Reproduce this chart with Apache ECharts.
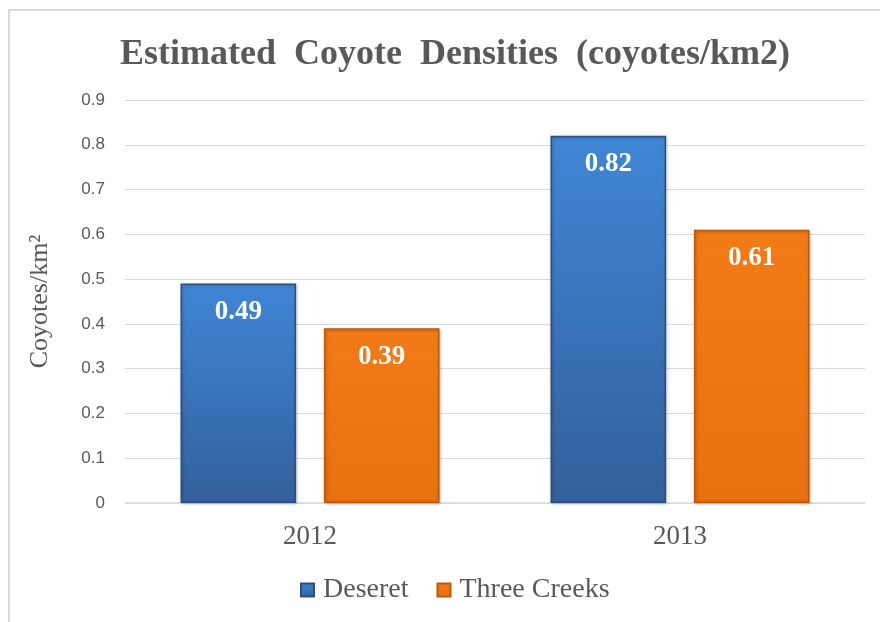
<!DOCTYPE html>
<html>
<head>
<meta charset="utf-8">
<script src="https://cdn.jsdelivr.net/npm/echarts@6/dist/echarts.min.js"></script>
<style>
  html, body { margin: 0; padding: 0; background: #fff; }
  #chart { width: 880px; height: 622px; }
</style>
</head>
<body>
<div id="chart"></div>
<script>
// Estimated coyote densities by site and year
const years = ['2012', '2013'];
const deseret = [0.49, 0.82];
const threeCreeks = [0.39, 0.61];
const yTicks = [0, 0.9, 0.1];   // min, max, interval

const serif = '"Liberation Serif", "Times New Roman", serif';
const sans = '"Liberation Sans", Arial, sans-serif';

function barStyle(top, bottom, edge) {
  return {
    color: new echarts.graphic.LinearGradient(0, 0, 0, 1, [
      { offset: 0, color: top },
      { offset: 1, color: bottom }
    ]),
    borderColor: edge,
    borderWidth: 1.5,
    shadowColor: 'rgba(0,0,0,0.25)',
    shadowBlur: 3,
    shadowOffsetX: 1,
    shadowOffsetY: 1
  };
}

const valueLabel = {
  show: true,
  position: 'insideTop',
  distance: 15,
  color: '#ffffff',
  fontFamily: serif,
  fontWeight: 'bold',
  fontSize: 27,
  formatter: p => p.value.toFixed(2)
};

const chart = echarts.init(document.getElementById('chart'), null, { renderer: 'canvas' });
chart.setOption({
  animation: false,
  backgroundColor: '#ffffff',
  graphic: [{
    type: 'rect',
    shape: { x: 9, y: 10, width: 900, height: 700 },
    style: { fill: 'none', stroke: '#d9d9d9', lineWidth: 2 },
    silent: true
  }],
  title: {
    text: 'Estimated  Coyote  Densities  (coyotes/km2)',
    left: 450,
    textAlign: 'center',
    top: 32,
    textStyle: {
      fontFamily: serif,
      fontWeight: 'bold',
      fontSize: 36,
      color: '#595959'
    }
  },
  grid: { left: 125, right: 15, top: 100, bottom: 119, containLabel: false },
  legend: {
    bottom: 13,
    left: 295,
    itemWidth: 13,
    itemHeight: 13,
    itemGap: 28,
    textStyle: { fontFamily: serif, fontSize: 28, color: '#595959', padding: [0, 0, 0, 4] },
    data: [
      { name: 'Deseret', icon: 'rect' },
      { name: 'Three Creeks', icon: 'rect' }
    ]
  },
  xAxis: {
    type: 'category',
    data: years,
    axisLine: { lineStyle: { color: '#d9d9d9', width: 1.5 } },
    axisTick: { show: false },
    axisLabel: { fontFamily: serif, fontSize: 27, color: '#595959', margin: 20 }
  },
  yAxis: {
    type: 'value',
    min: yTicks[0],
    max: yTicks[1],
    interval: yTicks[2],
    name: 'Coyotes/km²',
    nameLocation: 'middle',
    nameGap: 72,
    nameTextStyle: { fontFamily: serif, fontSize: 26, color: '#595959' },
    axisLine: { show: false },
    axisTick: { show: false },
    axisLabel: {
      fontFamily: sans,
      fontSize: 17,
      color: '#595959',
      margin: 20,
      formatter: v => (Math.round(v * 10) / 10).toString()
    },
    splitLine: { lineStyle: { color: '#d9d9d9', width: 1 } }
  },
  series: [
    {
      name: 'Deseret',
      type: 'bar',
      data: deseret,
      barGap: '24%',
      barCategoryGap: '30%',
      itemStyle: barStyle('#3f86d6', '#33609c', '#2b4f80'),
      label: valueLabel
    },
    {
      name: 'Three Creeks',
      type: 'bar',
      data: threeCreeks,
      itemStyle: barStyle('#f27b17', '#e8700e', '#b85a0a'),
      label: valueLabel
    }
  ]
});
</script>
</body>
</html>
